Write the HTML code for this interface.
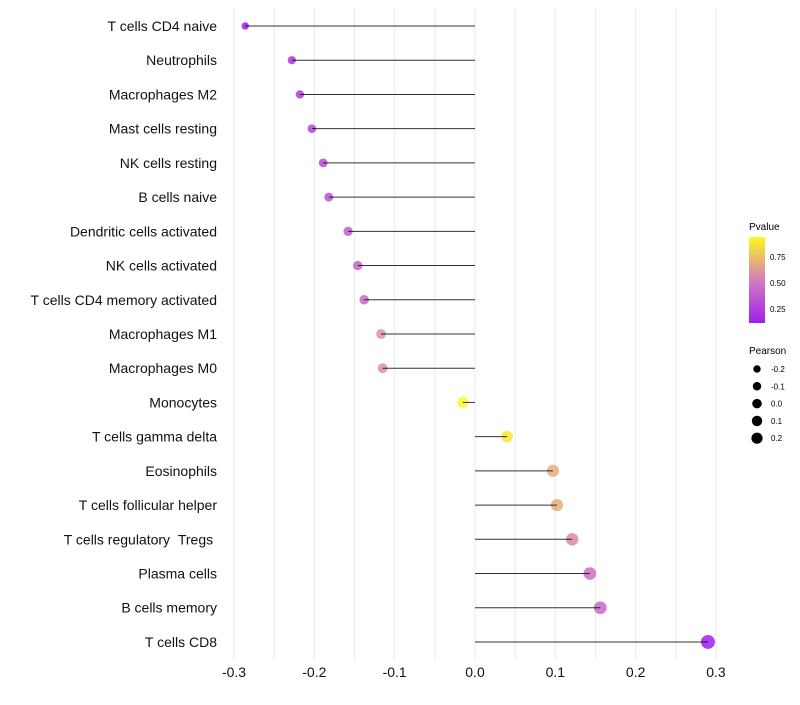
<!DOCTYPE html>
<html><head><meta charset="utf-8"><style>
body{margin:0;background:#fff;}
svg text{font-family:"Liberation Sans",sans-serif;}
</style></head><body>
<svg id="chart" width="800" height="700" xmlns="http://www.w3.org/2000/svg">
<defs><linearGradient id="pg" x1="0" y1="1" x2="0" y2="0">
<stop offset="0" stop-color="#A01FF0"/><stop offset="0.5" stop-color="#D47DBA"/><stop offset="1" stop-color="#FFF720"/></linearGradient></defs>
<g id="grid"></g><g id="marks"></g><g id="labels"></g>
<g>
<text x="749" y="230" font-size="10">Pvalue</text>
<rect x="749" y="237" width="16" height="86" fill="url(#pg)"/>
<text x="770" y="260" font-size="8">0.75</text>
<text x="770" y="286" font-size="8">0.50</text>
<text x="770" y="312" font-size="8">0.25</text>
</g>
<g id="sizeLegend">
<text x="749" y="354" font-size="10">Pearson</text>
</g>
</svg>
<script>
const categories=["T cells CD4 naive","Neutrophils","Macrophages M2","Mast cells resting","NK cells resting","B cells naive","Dendritic cells activated","NK cells activated","T cells CD4 memory activated","Macrophages M1","Macrophages M0","Monocytes","T cells gamma delta","Eosinophils","T cells follicular helper","T cells regulatory\u00a0\u00a0Tregs\u00a0","Plasma cells","B cells memory","T cells CD8"];
const pearson=[-0.286,-0.228,-0.218,-0.203,-0.189,-0.182,-0.158,-0.146,-0.138,-0.117,-0.115,-0.015,0.040,0.097,0.102,0.121,0.143,0.156,0.290];
const pvalue=[0.08,0.2,0.22,0.26,0.28,0.32,0.38,0.4,0.42,0.58,0.58,0.95,0.88,0.68,0.68,0.56,0.45,0.42,0.1];
const xTicks=[-0.3,-0.2,-0.1,0.0,0.1,0.2,0.3];
const sizeLegend=[-0.2,-0.1,0.0,0.1,0.2];
const NS="http://www.w3.org/2000/svg";
const xs=v=>475+v*803.3;
const ys=i=>26+i*34.22;
const rs=v=>Math.sqrt(Math.max(1,31.2+61.5*v));
function col(p){const t=Math.max(0,Math.min(1,(p-0.1)/0.83));
 const a=[160,31,240],b=[212,125,186],c=[255,247,32];let u,s,e;
 if(t<0.5){u=t/0.5;s=a;e=b}else{u=(t-0.5)/0.5;s=b;e=c}
 return `rgb(${s.map((x,k)=>Math.round(x+(e[k]-x)*u)).join(',')})`;}
function mk(tag,at,parent){const el=document.createElementNS(NS,tag);for(const k in at)el.setAttribute(k,at[k]);parent.appendChild(el);return el;}
const grid=document.getElementById('grid'),marks=document.getElementById('marks'),labels=document.getElementById('labels');
for(let v=-0.3;v<=0.3001;v+=0.05){const g=mk('line',{x1:xs(v),x2:xs(v),y1:8,y2:660,stroke:'#ebebeb','stroke-width':1},grid);
 
 }
xTicks.forEach(v=>{const t=mk('text',{x:xs(v),y:677,'font-size':14,'text-anchor':'middle',fill:'#111'},labels);t.textContent=v.toFixed(1);
 
 });
categories.forEach((c,i)=>{const y=ys(i);
 const t=mk('text',{x:217,y:y+5,'font-size':14,'text-anchor':'end',fill:'#111'},labels);t.textContent=c;
 
 
 const p=mk('circle',{cx:xs(pearson[i]),cy:y,r:rs(pearson[i]),fill:col(pvalue[i]),'fill-opacity':0.85},marks);
 
 
 const l=mk('line',{x1:xs(0),x2:xs(pearson[i]),y1:y,y2:y,stroke:'#000','stroke-opacity':0.8,'stroke-width':1},marks);
 
 });
const sl=document.getElementById('sizeLegend');
sizeLegend.forEach((v,i)=>{const y=369+i*17.3;
 const c=mk('circle',{cx:757,cy:y,r:rs(v)*0.85,fill:'#000'},sl);
 
 
 const t=mk('text',{x:771,y:y+3,'font-size':8},sl);t.textContent=v.toFixed(1);
 
 });
</script>
</body></html>
